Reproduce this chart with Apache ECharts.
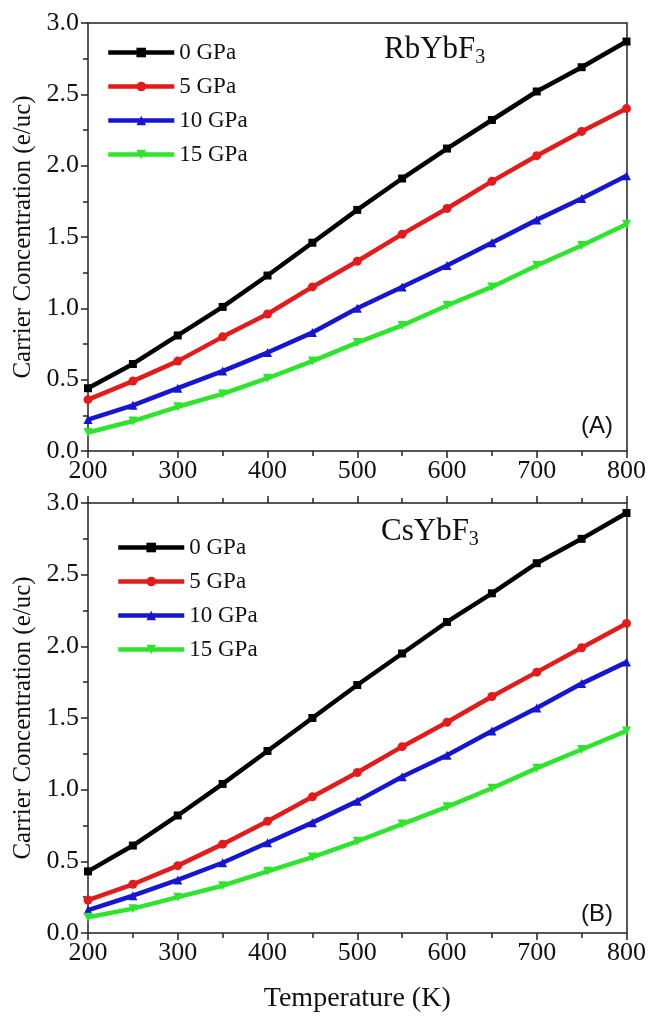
<!DOCTYPE html>
<html>
<head>
<meta charset="utf-8">
<script src="https://cdn.jsdelivr.net/npm/echarts@6/dist/echarts.min.js"></script>
<style>
html,body{margin:0;padding:0;background:#fff;}
#chart{width:649px;height:1021px;}
</style>
</head>
<body>
<div id="chart"></div>
<script>
// ---- data ----
const temps = [200,250,300,350,400,450,500,550,600,650,700,750,800];
const seriesNames = ['0 GPa','5 GPa','10 GPa','15 GPa'];
const rb0  = [0.44,0.61,0.81,1.01,1.23,1.46,1.69,1.91,2.12,2.32,2.52,2.69,2.87];
const rb5  = [0.36,0.49,0.63,0.80,0.96,1.15,1.33,1.52,1.70,1.89,2.07,2.24,2.40];
const rb10 = [0.22,0.32,0.44,0.56,0.69,0.83,1.00,1.15,1.30,1.46,1.62,1.77,1.93];
const rb15 = [0.13,0.21,0.31,0.40,0.51,0.63,0.76,0.88,1.02,1.15,1.30,1.44,1.59];
const cs0  = [0.43,0.61,0.82,1.04,1.27,1.50,1.73,1.95,2.17,2.37,2.58,2.75,2.93];
const cs5  = [0.23,0.34,0.47,0.62,0.78,0.95,1.12,1.30,1.47,1.65,1.82,1.99,2.16];
const cs10 = [0.16,0.26,0.37,0.49,0.63,0.77,0.92,1.09,1.24,1.41,1.57,1.74,1.89];
const cs15 = [0.11,0.17,0.25,0.33,0.43,0.53,0.64,0.76,0.88,1.01,1.15,1.28,1.41];
const xTicks = [200,300,400,500,600,700,800];
const yTicks = [0.0,0.5,1.0,1.5,2.0,2.5,3.0];

// ---- styles ----
const colors = ['#000000','#e41b1b','#1515d2','#2ce52c'];
const symbols = ['rect','circle','triangle','triangle'];
const rotates = [0,0,0,180];
const serif = '"Liberation Serif", "Times New Roman", serif';
const axisColor = '#222';

function pairs(ys){ return temps.map((t,i)=>[t,ys[i]]); }

function xAxisDef(gridIndex, position, showLabels, showTicks){
  return {
    type:'value', gridIndex, position, min:xTicks[0], max:xTicks[xTicks.length-1], interval:100,
    axisLine:{show:true,onZero:false,lineStyle:{color:axisColor,width:1.5}},
    axisTick:{show:showTicks,inside:false,length:7,lineStyle:{color:axisColor,width:1.5}},
    minorTick:{show:showTicks,splitNumber:2,length:5,lineStyle:{color:axisColor,width:1.5}},
    axisLabel:{show:showLabels,margin:7,fontFamily:serif,fontSize:26,color:'#111'},
    splitLine:{show:false}
  };
}
function yAxisDef(gridIndex, position, showLabels, showTicks, name){
  return {
    type:'value', gridIndex, position, min:yTicks[0], max:yTicks[yTicks.length-1], interval:0.5,
    axisLine:{show:true,onZero:false,lineStyle:{color:axisColor,width:1.5}},
    axisTick:{show:showTicks,inside:false,length:7,lineStyle:{color:axisColor,width:1.5}},
    minorTick:{show:showTicks,splitNumber:2,length:5,lineStyle:{color:axisColor,width:1.5}},
    axisLabel:{show:showLabels,margin:9,fontFamily:serif,fontSize:26,color:'#111',
      formatter:v=>v.toFixed(1)},
    splitLine:{show:false},
    name:name||'', nameLocation:'middle', nameGap:50, nameRotate:90,
    nameTextStyle:{fontFamily:serif,fontSize:25,color:'#111'}
  };
}

function makeSeries(dataArrs, xi, yi){
  return dataArrs.map((d,k)=>({
    name:seriesNames[k], type:'line', xAxisIndex:xi, yAxisIndex:yi,
    data:pairs(d), symbol:symbols[k], symbolRotate:rotates[k], symbolSize:k===0?8:9,
    showAllSymbol:true, animation:false,
    lineStyle:{color:colors[k],width:4.5}, itemStyle:{color:colors[k]}
  }));
}

function legendDef(left, top){
  return {
    left, top, orient:'vertical', padding:0, itemWidth:66, itemHeight:12, itemGap:11,
    data:seriesNames, selectedMode:false,
    lineStyle:{width:4.5},
    textStyle:{fontFamily:serif,fontSize:23,color:'#111',lineHeight:22}
  };
}

const chart = echarts.init(document.getElementById('chart'), null, {renderer:'canvas'});
chart.setOption({
  backgroundColor:'#fff',
  animation:false,
  grid:[
    {left:88, right:22, top:23, height:428},
    {left:88, right:22, top:503, height:430}
  ],
  xAxis:[
    xAxisDef(0,'bottom',true,true),
    xAxisDef(0,'top',false,false),
    Object.assign(xAxisDef(1,'bottom',true,true),{name:'Temperature (K)',nameLocation:'middle',nameGap:52,
      nameTextStyle:{fontFamily:serif,fontSize:28,color:'#111'}}),
    xAxisDef(1,'top',false,true)
  ],
  yAxis:[
    yAxisDef(0,'left',true,true,'Carrier Concentration (e/uc)'),
    yAxisDef(0,'right',false,false),
    yAxisDef(1,'left',true,true,'Carrier Concentration (e/uc)'),
    yAxisDef(1,'right',false,false)
  ],
  legend:[ legendDef(106,41), legendDef(116,536) ],
  graphic:[
    {type:'text',left:384,top:34,style:{rich:{m:{fontFamily:serif,fontSize:31,fill:'#111'},s:{fontFamily:serif,fontSize:20,fill:'#111',padding:[16,0,0,0]}},text:'{m|RbYbF}{s|3}'}},
    {type:'text',left:381,top:516,style:{rich:{m:{fontFamily:serif,fontSize:31,fill:'#111'},s:{fontFamily:serif,fontSize:20,fill:'#111',padding:[16,0,0,0]}},text:'{m|CsYbF}{s|3}'}},
    {type:'text',left:581,top:414,style:{text:'(A)',fontFamily:'"Liberation Sans", Arial, sans-serif',fontSize:24,fill:'#111'}},
    {type:'text',left:581,top:902,style:{text:'(B)',fontFamily:'"Liberation Sans", Arial, sans-serif',fontSize:24,fill:'#111'}}
  ],
  series:[].concat(
    makeSeries([rb0,rb5,rb10,rb15],0,0),
    makeSeries([cs0,cs5,cs10,cs15],2,2)
  )
});
</script>
</body>
</html>
